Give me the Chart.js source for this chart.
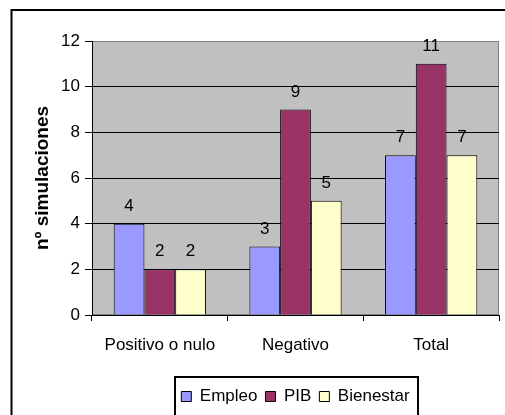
<!DOCTYPE html>
<html>
<head>
<meta charset="utf-8">
<script src="https://cdn.jsdelivr.net/npm/chart.js@4"></script>
<style>
  html, body { margin: 0; padding: 0; background: #fff; }
  canvas { display: block; }
</style>
</head>
<body>
<canvas id="grafico" width="505" height="415"></canvas>
<script>
// Datos
const categorias = ['Positivo o nulo', 'Negativo', 'Total'];
const empleo = [4, 3, 7];
const pib = [2, 9, 11];
const bienestar = [2, 5, 7];
const marcasY = [0, 2, 4, 6, 8, 10, 12];

const fuente = '"Liberation Sans", Arial, sans-serif';

// Fondo gris del área de trazado y marco exterior
const fondo = {
  id: 'fondo',
  beforeDraw(chart) {
    const { ctx, chartArea: a } = chart;
    ctx.save();
    ctx.fillStyle = '#fff';
    ctx.fillRect(0, 0, chart.width, chart.height);
    ctx.strokeStyle = '#000';
    ctx.lineWidth = 2;
    ctx.strokeRect(11.5, 10, 600, 600);
    ctx.fillStyle = '#c0c0c0';
    ctx.fillRect(a.left, a.top, a.right - a.left, a.bottom - a.top);
    ctx.strokeStyle = '#808080';
    ctx.lineWidth = 1;
    ctx.strokeRect(a.left + 0.5, a.top + 0.5, a.right - a.left - 1, a.bottom - a.top - 1);
    ctx.restore();
  }
};

// Valores encima de cada barra
const etiquetas = {
  id: 'etiquetas',
  afterDatasetsDraw(chart) {
    const ctx = chart.ctx;
    ctx.save();
    ctx.font = '17px ' + fuente;
    ctx.fillStyle = '#000';
    ctx.textAlign = 'center';
    ctx.textBaseline = 'alphabetic';
    chart.data.datasets.forEach((ds, i) => {
      chart.getDatasetMeta(i).data.forEach((barra, j) => {
        ctx.fillText(ds.data[j], barra.x, barra.y - 13);
      });
    });
    ctx.restore();
  }
};

// Recuadro alrededor de la leyenda
const marcoLeyenda = {
  id: 'marcoLeyenda',
  afterDraw(chart) {
    const cajas = chart.legend.legendHitBoxes;
    if (!cajas || !cajas.length) return;
    const izq = Math.min(...cajas.map(c => c.left)) - 6;
    const der = Math.max(...cajas.map(c => c.left + c.width)) + 9;
    const arriba = Math.min(...cajas.map(c => c.top)) - 11;
    const abajo = Math.max(...cajas.map(c => c.top + c.height)) + 11;
    const ctx = chart.ctx;
    ctx.save();
    ctx.strokeStyle = '#000';
    ctx.lineWidth = 2;
    ctx.strokeRect(Math.round(izq), Math.round(arriba), Math.round(der - izq), Math.round(abajo - arriba));
    ctx.restore();
  }
};

new Chart(document.getElementById('grafico'), {
  type: 'bar',
  data: {
    labels: categorias,
    datasets: [
      { label: 'Empleo', data: empleo, backgroundColor: '#9999ff', borderColor: '#000', borderWidth: 1 },
      { label: 'PIB', data: pib, backgroundColor: '#993366', borderColor: '#000', borderWidth: 1 },
      { label: 'Bienestar', data: bienestar, backgroundColor: '#ffffcc', borderColor: '#000', borderWidth: 1 }
    ]
  },
  options: {
    responsive: false,
    animation: false,
    devicePixelRatio: 1,
    categoryPercentage: 0.68,
    barPercentage: 1,
    layout: { padding: { left: 11, top: 41, right: 6, bottom: 0 } },
    plugins: {
      legend: {
        position: 'bottom',
        fullSize: false,
        labels: {
          boxWidth: 10,
          boxHeight: 10,
          padding: 8,
          color: '#000',
          font: { size: 17, family: fuente }
        }
      },
      tooltip: { enabled: false }
    },
    scales: {
      x: {
        afterFit(scale) { scale.height = 65; },
        grid: {
          offset: true,
          drawOnChartArea: false,
          drawTicks: true,
          tickLength: 6,
          color: '#000'
        },
        border: { color: '#000', width: 1 },
        ticks: { color: '#000', padding: 14, font: { size: 17, family: fuente }, maxRotation: 0 }
      },
      y: {
        min: marcasY[0],
        max: marcasY[marcasY.length - 1],
        afterFit(scale) { scale.width = 81; },
        afterBuildTicks(scale) { scale.ticks = marcasY.map(v => ({ value: v })); },
        grid: {
          color: c => (c.tick && c.tick.value === marcasY[marcasY.length - 1]) ? '#808080' : '#000',
          tickColor: '#000',
          tickLength: 7,
          lineWidth: 1
        },
        border: { color: '#000', width: 1 },
        ticks: { color: '#000', padding: 5, font: { size: 17, family: fuente } },
        title: {
          display: true,
          text: 'nº simulaciones',
          color: '#000',
          font: { size: 19, weight: 'bold', family: fuente },
          padding: { top: 20, bottom: 0 }
        }
      }
    }
  },
  plugins: [fondo, etiquetas, marcoLeyenda]
});
</script>
</body>
</html>
